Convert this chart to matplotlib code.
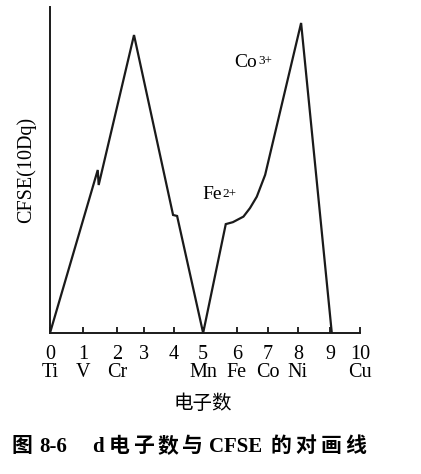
import matplotlib.pyplot as plt

# d electron count vs CFSE
d_electrons = [0, 1.54, 1.57, 2.71, 3.97, 4.10, 4.94, 5.67, 5.90, 6.24, 6.45, 6.67, 6.94, 8.10, 9.09]
cfse = [0, 0.50, 0.454, 0.914, 0.362, 0.359, 0, 0.334, 0.340, 0.357, 0.383, 0.418, 0.485, 0.951, 0]

tick_pos = [0, 1.06, 2.16, 3.03, 4.0, 4.94, 6.03, 7.03, 8.0, 9.03, 10.0]
tick_num = ['0', '1', '2', '3', '4', '5', '6', '7', '8', '9', '10']
elements = ['Ti', 'V', 'Cr', '', '', 'Mn', 'Fe', 'Co', 'Ni', '', 'Cu']

serif = ['Liberation Serif', 'Noto Sans CJK SC']
plt.rcParams['font.family'] = serif

fig = plt.figure(figsize=(4.21, 4.74), dpi=100)
ax = fig.add_axes([50 / 421, 141 / 474, 310 / 421, 326 / 474])

ax.plot(d_electrons, cfse, color='#1a1a1a', lw=1.6, solid_joinstyle='miter')

ax.set_xlim(0, 10)
ax.set_ylim(0, 1)
for s in ['top', 'right']:
    ax.spines[s].set_visible(False)
for s in ['left', 'bottom']:
    ax.spines[s].set_linewidth(1.4)
    ax.spines[s].set_color('#1a1a1a')

ax.set_yticks([])
ax.set_xticks(tick_pos)
ax.set_xticklabels([n + '\n' + e for n, e in zip(tick_num, elements)], fontsize=14.5)
for lab in ax.get_xticklabels():
    lab.set_linespacing(0.95)
ax.tick_params(axis='x', direction='in', length=4, width=1.2, pad=8.5)

ax.set_ylabel('CFSE(10Dq)', fontsize=14.5, labelpad=10)

# ion labels with small superscripts
for name, sup, x, y in [('Co', '3+', 5.95, 0.830), ('Fe', '2+', 4.92, 0.424)]:
    t = ax.text(x, y, name, fontsize=14, va='center', ha='left')
    ax.annotate(sup, xy=(1, 1), xycoords=t, xytext=(0.5, -1), textcoords='offset points',
                fontsize=9.5, ha='left', va='top')

fig.text(203 / 421, 1 - 403 / 474, '电子数', fontsize=14, ha='center', va='center',
         family=['Noto Sans CJK SC'])

# figure caption, pieces placed to mimic the book's letter spacing
caption = [('图', 21.5), ('8-6', 53), ('d', 98), ('电', 119), ('子', 143.5), ('数', 168),
           ('与', 192), ('CFSE', 236), ('的', 281), ('对', 306), ('画', 331), ('线', 356)]
for txt, cx in caption:
    fig.text(cx / 421, 1 - 447 / 474, txt, fontsize=15, fontweight='bold',
             ha='center', va='center', family=serif)

fig.savefig('out.png', dpi=100)
